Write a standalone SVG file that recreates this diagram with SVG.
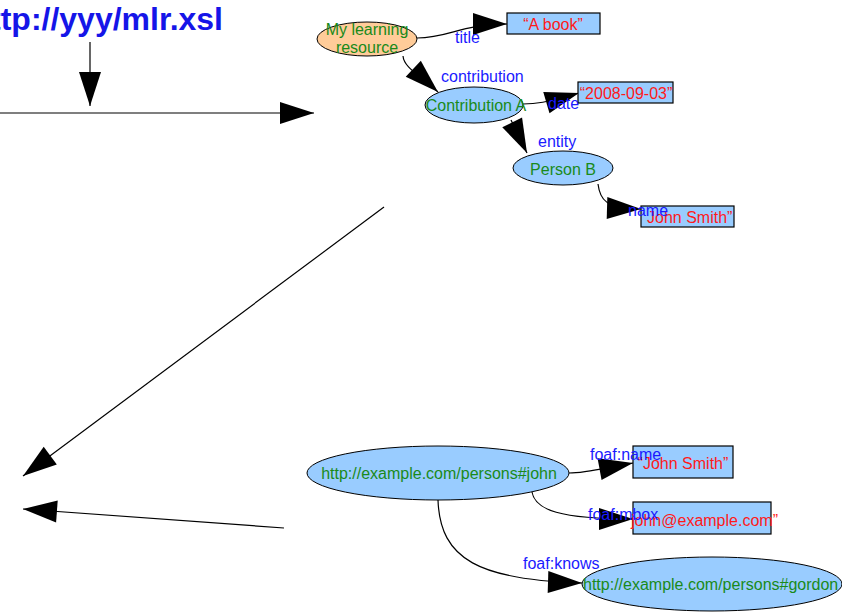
<svg xmlns="http://www.w3.org/2000/svg" width="842" height="612" viewBox="0 0 842 612">
<style>
text{font-family:"Liberation Sans",Arial,sans-serif;font-size:16px}
.edge{fill:none;stroke:#000;stroke-width:1.2}
.lbl{fill:#1a1aff}
.res{fill:#99ccff;stroke:#000;stroke-width:1}
.lit{fill:#99ccff;stroke:#000;stroke-width:1.2}
.rt{fill:#1a8a1a}
.lt{fill:#ff1a1a}
.title{fill:#1515e8;font-size:32px;font-weight:bold}
</style>
<defs>
<marker id="arr" markerUnits="userSpaceOnUse" markerWidth="34" markerHeight="22" refX="34" refY="11" orient="auto" overflow="visible">
<path d="M0,0 L34,11 L0,22 z" fill="#000"/>
</marker>
</defs>
<text class="title" x="223" y="30" text-anchor="end">http://yyy/mlr.xsl</text>
<g id="connectors">
<path class="edge" d="M90,42 L90,106" marker-end="url(#arr)"/>
<path class="edge" d="M0,113 L314,113" marker-end="url(#arr)"/>
<path class="edge" d="M417,38 C450,38 460,24 507,24" marker-end="url(#arr)"/>
<path class="edge" d="M403,56 C404,68 420,75 438,92" marker-end="url(#arr)"/>
<path class="edge" d="M523,104 C535,104 545,103 579,93" marker-end="url(#arr)"/>
<path class="edge" d="M511,120 L527,153" marker-end="url(#arr)"/>
<path class="edge" d="M598,184 C600,200 605,208 641,209" marker-end="url(#arr)"/>
<path class="edge" d="M384,207 L23,476" marker-end="url(#arr)"/>
<path class="edge" d="M284,528 L23,509" marker-end="url(#arr)"/>
<path class="edge" d="M569,473 C585,473 595,470 633,463" marker-end="url(#arr)"/>
<path class="edge" d="M532,492 C535,510 560,519 633,519" marker-end="url(#arr)"/>
<path class="edge" d="M438,500 C440,560 480,580 582,583" marker-end="url(#arr)"/>
</g>
<g id="n-mlr">
<ellipse cx="367" cy="39" rx="50" ry="17" fill="#ffcc99" stroke="#000" stroke-width="1"/>
<text class="rt" x="367" y="35" text-anchor="middle">My learning</text>
<text class="rt" x="367" y="53" text-anchor="middle">resource</text>
</g>
<g id="n-book">
<rect class="lit" x="507" y="13" width="93" height="21"/>
<text class="lt" x="553" y="30" text-anchor="middle">“A book”</text>
</g>
<g id="n-contrib">
<ellipse class="res" cx="474" cy="105" rx="49" ry="18"/>
<text class="rt" x="476" y="111" text-anchor="middle">Contribution A</text>
</g>
<g id="n-date">
<rect class="lit" x="578" y="82" width="95" height="21"/>
<text class="lt" x="626" y="99" text-anchor="middle">“2008-09-03”</text>
</g>
<g id="n-personb">
<ellipse class="res" cx="563" cy="168" rx="50" ry="17"/>
<text class="rt" x="563" y="175" text-anchor="middle">Person B</text>
</g>
<g id="n-name1">
<rect class="lit" x="641" y="206" width="93" height="21"/>
<text class="lt" x="647" y="223">John Smith”</text>
</g>
<g id="n-john">
<ellipse class="res" cx="438" cy="473" rx="131" ry="27"/>
<text class="rt" x="439" y="479" text-anchor="middle">http://example.com/persons#john</text>
</g>
<g id="n-name2">
<rect class="lit" x="633" y="446" width="100" height="32"/>
<text class="lt" x="683" y="469" text-anchor="middle">“John Smith”</text>
</g>
<g id="n-mbox">
<rect class="lit" x="633" y="502" width="138" height="32"/>
<text class="lt" x="631" y="526">john@example.com”</text>
</g>
<g id="n-gordon">
<ellipse class="res" cx="712" cy="584" rx="130" ry="27"/>
<text class="rt" x="583" y="590">http://example.com/persons#gordon</text>
</g>
<g id="edge-labels">
<text class="lbl" x="455" y="43">title</text>
<text class="lbl" x="441" y="82">contribution</text>
<text class="lbl" x="548" y="109">date</text>
<text class="lbl" x="538" y="147">entity</text>
<text class="lbl" x="628" y="216">name</text>
<text class="lbl" x="590" y="460">foaf:name</text>
<text class="lbl" x="588" y="520">foaf:mbox</text>
<text class="lbl" x="523" y="569">foaf:knows</text>
</g>
</svg>
